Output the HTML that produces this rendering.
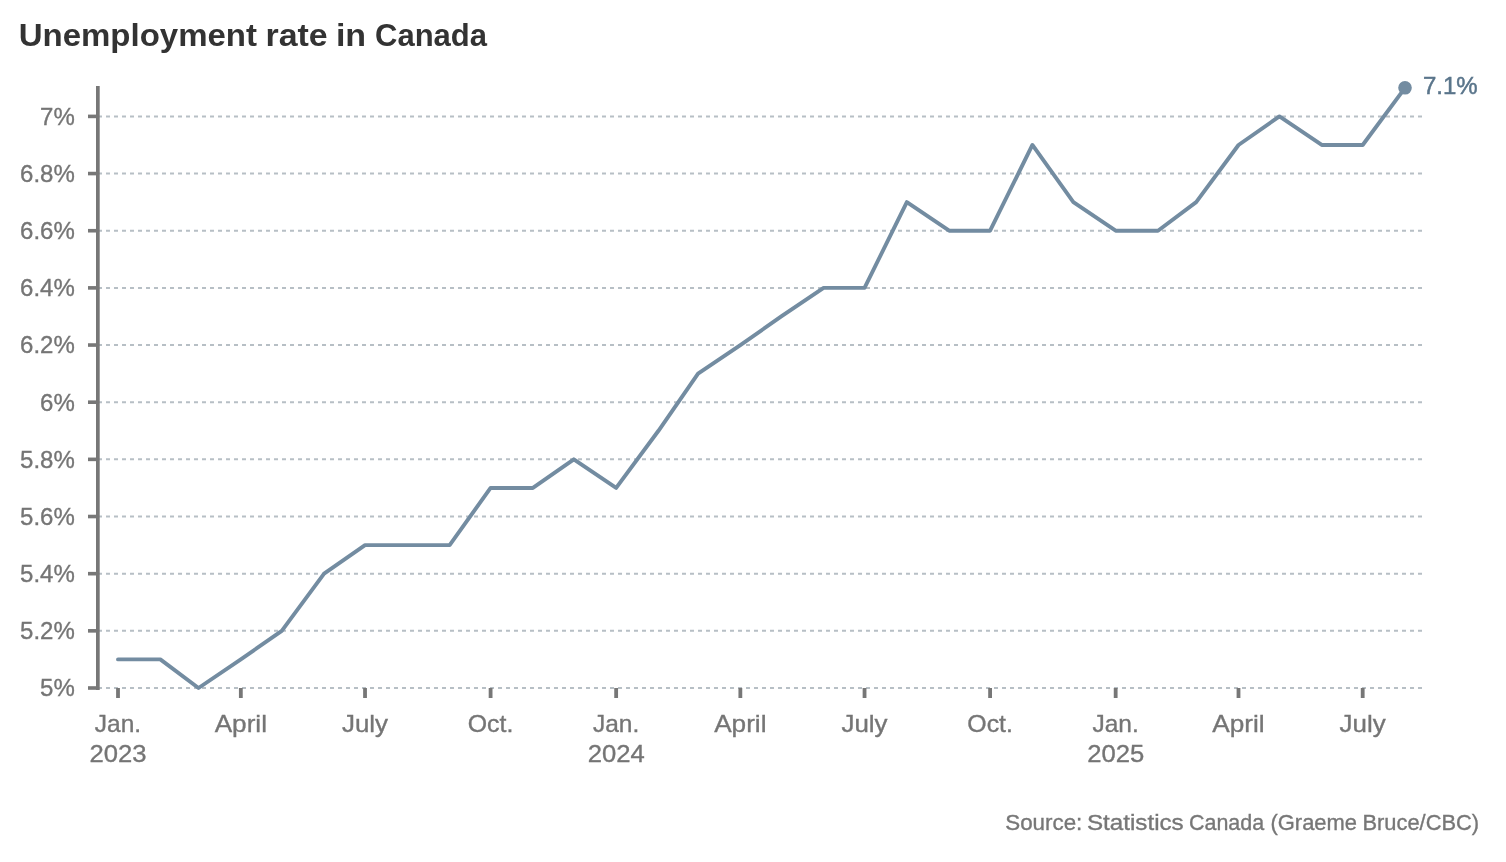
<!DOCTYPE html><html><head><meta charset="utf-8"><style>html,body{margin:0;padding:0;background:#fff;}svg{display:block;will-change:transform;}text{font-family:"Liberation Sans",sans-serif;} .lb{stroke-width:0.35px;}</style></head><body>
<svg width="1506" height="862" viewBox="0 0 1506 862">
<rect width="1506" height="862" fill="#fff"/>
<text x="18.67" y="45.7" font-size="31" font-weight="bold" fill="#333333" textLength="238.35" lengthAdjust="spacingAndGlyphs">Unemployment</text>
<text x="265.51" y="45.7" font-size="31" font-weight="bold" fill="#333333" textLength="62.25" lengthAdjust="spacingAndGlyphs">rate</text>
<text x="335.91" y="45.7" font-size="31" font-weight="bold" fill="#333333" textLength="30.2" lengthAdjust="spacingAndGlyphs">in</text>
<text x="375.0" y="45.7" font-size="31" font-weight="bold" fill="#333333" textLength="111.98" lengthAdjust="spacingAndGlyphs">Canada</text>
<line x1="98" y1="688.00" x2="1422" y2="688.00" stroke="#b7bfc5" stroke-width="2" stroke-dasharray="4 4"/>
<line x1="98" y1="630.84" x2="1422" y2="630.84" stroke="#b7bfc5" stroke-width="2" stroke-dasharray="4 4"/>
<line x1="98" y1="573.68" x2="1422" y2="573.68" stroke="#b7bfc5" stroke-width="2" stroke-dasharray="4 4"/>
<line x1="98" y1="516.52" x2="1422" y2="516.52" stroke="#b7bfc5" stroke-width="2" stroke-dasharray="4 4"/>
<line x1="98" y1="459.36" x2="1422" y2="459.36" stroke="#b7bfc5" stroke-width="2" stroke-dasharray="4 4"/>
<line x1="98" y1="402.20" x2="1422" y2="402.20" stroke="#b7bfc5" stroke-width="2" stroke-dasharray="4 4"/>
<line x1="98" y1="345.04" x2="1422" y2="345.04" stroke="#b7bfc5" stroke-width="2" stroke-dasharray="4 4"/>
<line x1="98" y1="287.88" x2="1422" y2="287.88" stroke="#b7bfc5" stroke-width="2" stroke-dasharray="4 4"/>
<line x1="98" y1="230.72" x2="1422" y2="230.72" stroke="#b7bfc5" stroke-width="2" stroke-dasharray="4 4"/>
<line x1="98" y1="173.56" x2="1422" y2="173.56" stroke="#b7bfc5" stroke-width="2" stroke-dasharray="4 4"/>
<line x1="98" y1="116.40" x2="1422" y2="116.40" stroke="#b7bfc5" stroke-width="2" stroke-dasharray="4 4"/>
<rect x="88" y="686.20" width="10" height="3.6" fill="#777777"/>
<text x="74.8" y="696.30" font-size="24" fill="#757575" stroke="#757575" class="lb" text-anchor="end">5%</text>
<rect x="88" y="629.04" width="10" height="3.6" fill="#777777"/>
<text x="74.8" y="639.14" font-size="24" fill="#757575" stroke="#757575" class="lb" text-anchor="end">5.2%</text>
<rect x="88" y="571.88" width="10" height="3.6" fill="#777777"/>
<text x="74.8" y="581.98" font-size="24" fill="#757575" stroke="#757575" class="lb" text-anchor="end">5.4%</text>
<rect x="88" y="514.72" width="10" height="3.6" fill="#777777"/>
<text x="74.8" y="524.82" font-size="24" fill="#757575" stroke="#757575" class="lb" text-anchor="end">5.6%</text>
<rect x="88" y="457.56" width="10" height="3.6" fill="#777777"/>
<text x="74.8" y="467.66" font-size="24" fill="#757575" stroke="#757575" class="lb" text-anchor="end">5.8%</text>
<rect x="88" y="400.40" width="10" height="3.6" fill="#777777"/>
<text x="74.8" y="410.50" font-size="24" fill="#757575" stroke="#757575" class="lb" text-anchor="end">6%</text>
<rect x="88" y="343.24" width="10" height="3.6" fill="#777777"/>
<text x="74.8" y="353.34" font-size="24" fill="#757575" stroke="#757575" class="lb" text-anchor="end">6.2%</text>
<rect x="88" y="286.08" width="10" height="3.6" fill="#777777"/>
<text x="74.8" y="296.18" font-size="24" fill="#757575" stroke="#757575" class="lb" text-anchor="end">6.4%</text>
<rect x="88" y="228.92" width="10" height="3.6" fill="#777777"/>
<text x="74.8" y="239.02" font-size="24" fill="#757575" stroke="#757575" class="lb" text-anchor="end">6.6%</text>
<rect x="88" y="171.76" width="10" height="3.6" fill="#777777"/>
<text x="74.8" y="181.86" font-size="24" fill="#757575" stroke="#757575" class="lb" text-anchor="end">6.8%</text>
<rect x="88" y="114.60" width="10" height="3.6" fill="#777777"/>
<text x="74.8" y="124.70" font-size="24" fill="#757575" stroke="#757575" class="lb" text-anchor="end">7%</text>
<rect x="96" y="86" width="3.7" height="604" fill="#777777"/>
<rect x="116.10" y="688" width="3.8" height="10" fill="#777777"/>
<text x="118.00" y="732" font-size="24" fill="#757575" stroke="#757575" class="lb" text-anchor="middle" textLength="46.3" lengthAdjust="spacingAndGlyphs">Jan.</text>
<text x="118.00" y="762" font-size="24" fill="#757575" stroke="#757575" class="lb" text-anchor="middle" textLength="57" lengthAdjust="spacingAndGlyphs">2023</text>
<rect x="238.93" y="688" width="3.8" height="10" fill="#777777"/>
<text x="240.83" y="732" font-size="24" fill="#757575" stroke="#757575" class="lb" text-anchor="middle" textLength="52.3" lengthAdjust="spacingAndGlyphs">April</text>
<rect x="363.13" y="688" width="3.8" height="10" fill="#777777"/>
<text x="365.03" y="732" font-size="24" fill="#757575" stroke="#757575" class="lb" text-anchor="middle" textLength="46.1" lengthAdjust="spacingAndGlyphs">July</text>
<rect x="488.69" y="688" width="3.8" height="10" fill="#777777"/>
<text x="490.59" y="732" font-size="24" fill="#757575" stroke="#757575" class="lb" text-anchor="middle" textLength="45.6" lengthAdjust="spacingAndGlyphs">Oct.</text>
<rect x="614.25" y="688" width="3.8" height="10" fill="#777777"/>
<text x="616.15" y="732" font-size="24" fill="#757575" stroke="#757575" class="lb" text-anchor="middle" textLength="46.3" lengthAdjust="spacingAndGlyphs">Jan.</text>
<text x="616.15" y="762" font-size="24" fill="#757575" stroke="#757575" class="lb" text-anchor="middle" textLength="57" lengthAdjust="spacingAndGlyphs">2024</text>
<rect x="738.45" y="688" width="3.8" height="10" fill="#777777"/>
<text x="740.35" y="732" font-size="24" fill="#757575" stroke="#757575" class="lb" text-anchor="middle" textLength="52.3" lengthAdjust="spacingAndGlyphs">April</text>
<rect x="862.64" y="688" width="3.8" height="10" fill="#777777"/>
<text x="864.54" y="732" font-size="24" fill="#757575" stroke="#757575" class="lb" text-anchor="middle" textLength="46.1" lengthAdjust="spacingAndGlyphs">July</text>
<rect x="988.20" y="688" width="3.8" height="10" fill="#777777"/>
<text x="990.10" y="732" font-size="24" fill="#757575" stroke="#757575" class="lb" text-anchor="middle" textLength="45.6" lengthAdjust="spacingAndGlyphs">Oct.</text>
<rect x="1113.76" y="688" width="3.8" height="10" fill="#777777"/>
<text x="1115.66" y="732" font-size="24" fill="#757575" stroke="#757575" class="lb" text-anchor="middle" textLength="46.3" lengthAdjust="spacingAndGlyphs">Jan.</text>
<text x="1115.66" y="762" font-size="24" fill="#757575" stroke="#757575" class="lb" text-anchor="middle" textLength="57" lengthAdjust="spacingAndGlyphs">2025</text>
<rect x="1236.60" y="688" width="3.8" height="10" fill="#777777"/>
<text x="1238.50" y="732" font-size="24" fill="#757575" stroke="#757575" class="lb" text-anchor="middle" textLength="52.3" lengthAdjust="spacingAndGlyphs">April</text>
<rect x="1360.79" y="688" width="3.8" height="10" fill="#777777"/>
<text x="1362.69" y="732" font-size="24" fill="#757575" stroke="#757575" class="lb" text-anchor="middle" textLength="46.1" lengthAdjust="spacingAndGlyphs">July</text>
<path d="M118.00,659.42 L160.31,659.42 L198.52,688.00 L240.83,659.42 L281.78,630.84 L324.08,573.68 L365.03,545.10 L407.34,545.10 L449.64,545.10 L490.59,487.94 L532.90,487.94 L573.84,459.36 L616.15,487.94 L658.46,430.78 L698.04,373.62 L740.35,345.04 L781.29,316.46 L823.60,287.88 L864.54,287.88 L906.85,202.14 L949.16,230.72 L990.10,230.72 L1032.41,144.98 L1073.36,202.14 L1115.66,230.72 L1157.97,230.72 L1196.19,202.14 L1238.50,144.98 L1279.44,116.40 L1321.75,144.98 L1362.69,144.98 L1405.00,87.82" fill="none" stroke="#738ca1" stroke-width="3.9" stroke-linejoin="round" stroke-linecap="round"/>
<circle cx="1405.00" cy="87.82" r="6.8" fill="#738ca1"/>
<text x="1423" y="94.4" font-size="24" fill="#5a758b" stroke="#5a758b" stroke-width="0.5">7.1%</text>
<text x="1005.28" y="830" font-size="22" fill="#777777" stroke="#777777" class="lb" textLength="77.07" lengthAdjust="spacingAndGlyphs">Source:</text>
<text x="1086.9" y="830" font-size="22" fill="#777777" stroke="#777777" class="lb" textLength="96.83" lengthAdjust="spacingAndGlyphs">Statistics</text>
<text x="1189.03" y="830" font-size="22" fill="#777777" stroke="#777777" class="lb" textLength="75.15" lengthAdjust="spacingAndGlyphs">Canada</text>
<text x="1270.5" y="830" font-size="22" fill="#777777" stroke="#777777" class="lb" textLength="86.49" lengthAdjust="spacingAndGlyphs">(Graeme</text>
<text x="1362.51" y="830" font-size="22" fill="#777777" stroke="#777777" class="lb" textLength="116.54" lengthAdjust="spacingAndGlyphs">Bruce/CBC)</text>
</svg></body></html>
